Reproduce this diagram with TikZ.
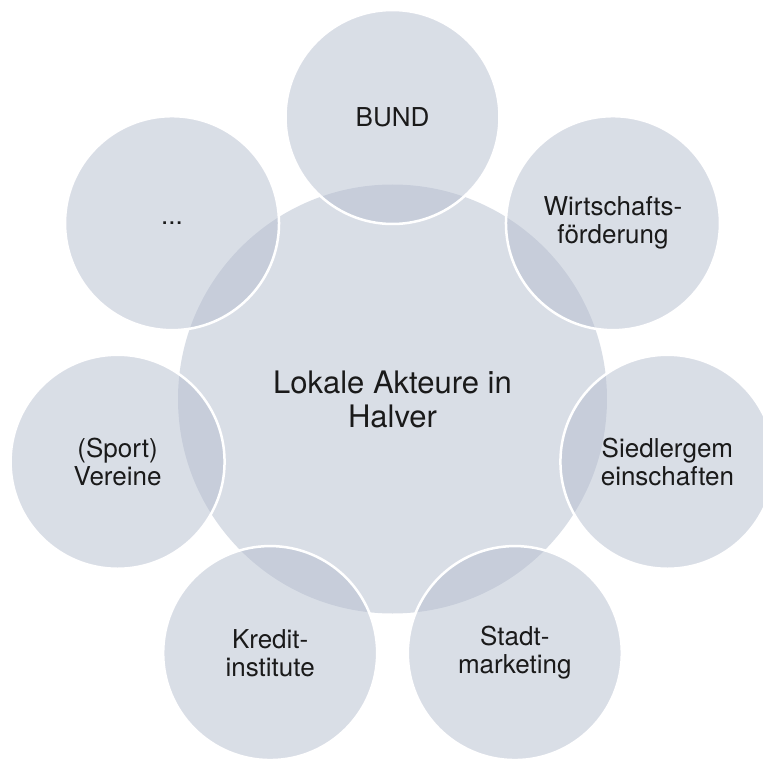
\documentclass[tikz,border=0pt]{standalone}
\usepackage{fontspec}
\setmainfont{TeX Gyre Heros}
\usepackage{tikz}
\usetikzlibrary{calc}
\usepackage{xcolor}
\renewcommand{\normalsize}{\fontsize{26}{28}\selectfont}
\renewcommand{\Large}{\fontsize{31}{34}\selectfont}
\definecolor{ink}{HTML}{1A1A1A}
\definecolor{venn}{RGB}{180,189,206}

\begin{document}
\begin{tikzpicture}[x=1pt,y=1pt,
  hub/.style={circle,fill=venn,fill opacity=0.5,text opacity=1,
    minimum size=429pt,inner sep=0pt,align=center,font=\Large,text=ink},
  sat/.style={circle,fill=venn,fill opacity=0.5,draw=white,draw opacity=1,
    line width=2.5pt,text opacity=1,minimum size=214pt,inner sep=0pt,
    align=center,font=\normalsize,text=ink}]
  \useasboundingbox (-392.5,-359) rectangle (370.5,399);
  \clip (-392.5,-359) rectangle (370.5,399);

  \coordinate (M) at (0,0);

  % Kreis in der Mitte
  \node[hub] (halver) at (M) {Lokale Akteure in\\Halver};

  % --- Akteure rundherum ---
  \node[sat] (bund) at ($(M)+(90:282)$) {BUND};
  \node[sat] (wirtschaft) at ($(M)+(38.57:282)$) {Wirtschafts-\\förderung};
  \node[sat] (siedler) at ($(M)+(-12.86:282)$) {Siedlergem\\einschaften};
  \node[sat] (stadt) at ($(M)+(-64.29:282)$) {Stadt-\\marketing};
  \node[sat] (kredit) at ($(M)+(-115.71:282)$) {Kredit-\\institute};
  \node[sat] (vereine) at ($(M)+(-167.14:282)$) {(Sport)\\Vereine};
  \node[sat] (weitere) at ($(M)+(141.43:282)$) {...};
\end{tikzpicture}
\end{document}
